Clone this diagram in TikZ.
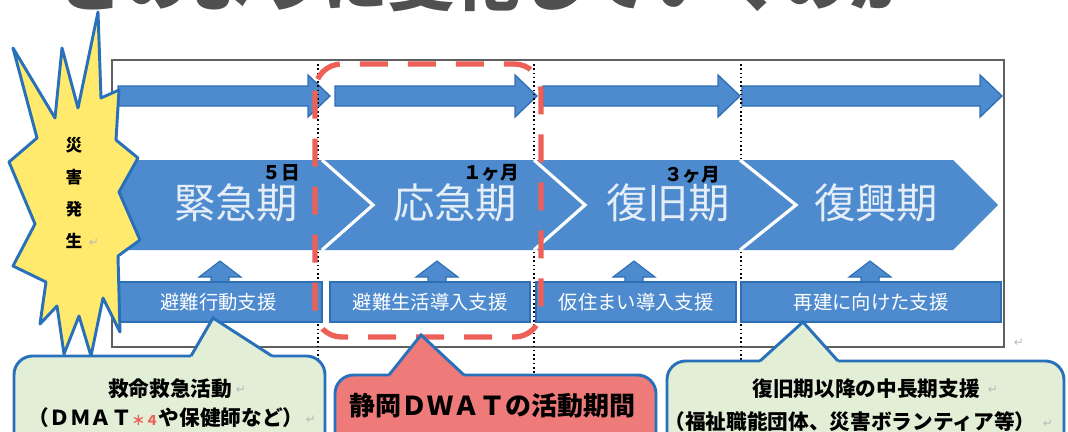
\documentclass[tikz,border=0pt]{standalone}
\usepackage{fontspec}
\setmainfont{Noto Sans CJK JP}
\newfontfamily\retfont{DejaVu Sans}
\usetikzlibrary{calc}

\definecolor{bandblue}{RGB}{77,139,206}
\definecolor{edgeblue}{RGB}{46,110,180}
\definecolor{lineblue}{RGB}{40,112,186}
\definecolor{starfill}{RGB}{255,234,110}
\definecolor{palegreen}{RGB}{226,238,214}
\definecolor{pinkred}{RGB}{239,122,122}
\definecolor{dashred}{RGB}{236,96,88}
\definecolor{framegray}{RGB}{95,95,95}
\definecolor{titlegray}{RGB}{80,80,80}
\definecolor{phasetext}{RGB}{228,237,248}
\definecolor{retgray}{RGB}{185,185,185}

\begin{document}
\begin{tikzpicture}[x=0.75pt, y=-0.75pt]
        % Define styles for shapes
        \tikzstyle{outerframe} = [draw=framegray, line width=1.6pt]
        \tikzstyle{toparrow} = [fill=bandblue, draw=edgeblue, line width=1pt]
        \tikzstyle{sepline} = [black, dotted, line width=1.2pt]
        \tikzstyle{notch} = [white, line width=2.4pt]
        \tikzstyle{uparrow} = [fill=bandblue, draw=edgeblue, line width=0.8pt]
        \tikzstyle{supportbox} = [draw=edgeblue, fill=bandblue, line width=1.2pt, minimum height=30pt, inner sep=0, text=white, font=\fontsize{14.5}{14.5}\selectfont]
        \tikzstyle{phase} = [text=phasetext, inner sep=0, font=\fontsize{31}{31}\selectfont]
        \tikzstyle{timelabel} = [inner sep=0, font=\bfseries\fontsize{14}{14}\selectfont]
        \tikzstyle{dashzone} = [draw=dashred, line width=4pt, dash pattern=on 21pt off 15pt, rounded corners=20pt]
        \tikzstyle{burst} = [fill=starfill, draw=lineblue, line width=2.2pt, line join=round]
        \tikzstyle{bubble} = [draw=lineblue, line width=2.2pt, rounded corners=14pt]
        \tikzstyle{pointer} = [draw=lineblue, line width=2.2pt, line join=miter]
        \tikzstyle{bubbletext} = [inner sep=0, font=\bfseries\fontsize{15.5}{15.5}\selectfont]
        \tikzstyle{retmark} = [inner sep=0, text=retgray, font=\retfont\fontsize{9}{9}\selectfont]

        \useasboundingbox (0,0) rectangle (1068,432);
        \clip (0,0) rectangle (1068,432);

        % Title (cut off at the top)
        \node[anchor=base west, inner sep=0, text=titlegray, font=\bfseries\fontsize{49.5}{49.5}\selectfont] (title) at (58,6) {どのように変化していくのか};

        % Draw frame and top arrows
        \draw[outerframe] (112,60) rectangle (1004,347);
        \foreach \a/\b in {118/330, 335/537, 543/740, 742/1002}
            \draw[toparrow] (\a,86) -- (\b-22,86) -- (\b-22,75) -- (\b,96) -- (\b-22,117) -- (\b-22,106) -- (\a,106) -- cycle;

        % Draw period separators
        \foreach \x in {318,534,741}
            \draw[sepline] (\x,64) -- (\x,432);

        % Draw phase band
        \fill[bandblue] (115,160) -- (953,160) -- (998,205) -- (953,250) -- (115,250) -- cycle;
        \foreach \x/\d in {322/51, 534/51, 740/56}
            \draw[notch] (\x,160) -- (\x+\d,205) -- (\x,250);
        \node[phase] (ph1) at (236,203) {緊急期};
        \node[phase] (ph2) at (455,203) {応急期};
        \node[phase] (ph3) at (668,203) {復旧期};
        \node[phase] (ph4) at (876,203) {復興期};
        \node[timelabel] (t5d) at (281,173) {５日};
        \node[timelabel] (t1m) at (491,173) {１ヶ月};
        \node[timelabel] (t3m) at (692,175) {３ヶ月};

        % Draw up arrows and support boxes
        \foreach \c in {220,437,634,870}
            \draw[uparrow] (\c,261) -- (\c+21,277) -- (\c+9,277) -- (\c+9,284) -- (\c-9,284) -- (\c-9,277) -- (\c-21,277) -- cycle;
        \node[supportbox, minimum width=155pt] (sup1) at (218.5,302) {避難行動支援};
        \node[supportbox, minimum width=150pt] (sup2) at (430,302) {避難生活導入支援};
        \node[supportbox, minimum width=150pt] (sup3) at (636,302) {仮住まい導入支援};
        \node[supportbox, minimum width=195pt] (sup4) at (871,302) {再建に向けた支援};
        \node[retmark] (ret0) at (1019,343) {↵};

        % DWAT period
        \draw[dashzone] (315,64) rectangle (541,337);

        % Draw burst
        \draw[burst] (98,12) -- (101,98) -- (119,90) -- (116,140) -- (138,158) -- (119,192) -- (140,240) -- (118,256) -- (120,332) -- (103,298) -- (91,356) -- (79,316) -- (64,354) -- (57,306) -- (40,324) -- (46,282) -- (13,266) -- (35,224) -- (9,162) -- (37,138) -- (13,48) -- (55,118) -- (62,48) -- (78,108) -- cycle;
        \node[align=center, inner sep=0, font=\bfseries\fontsize{12.5}{24}\selectfont] (onset) at (74,193) {災\\害\\発\\生};
        \node[retmark] (ret1) at (94,243) {↵};

        % Draw callouts
        \draw[bubble, fill=palegreen] (14,356) rectangle (325,450);
        \fill[palegreen] (191,356) -- (213,318) -- (272,356) -- (272,359) -- (191,359) -- cycle;
        \draw[pointer] (191,356) -- (213,318) -- (272,356);
        \node[bubbletext] (rescue1) at (170,389) {救命救急活動};
        \node[bubbletext] (rescue2) at (166,418) {（ＤＭＡＴ{\color{dashred}\fontsize{10}{10}\selectfont ＊４}や保健師など）};
        \node[retmark] (ret3) at (311,420) {↵};
        \node[retmark] (ret2) at (241,390) {↵};

        \draw[bubble, fill=pinkred] (335,375) rectangle (656,455);
        \fill[pinkred] (389,375) -- (421,335) -- (464,375) -- (464,378) -- (389,378) -- cycle;
        \draw[pointer] (389,375) -- (421,335) -- (464,375);
        \node[bubbletext, font=\bfseries\fontsize{19.5}{19.5}\selectfont] (dwat) at (492,406) {静岡ＤＷＡＴの活動期間};

        \draw[bubble, fill=palegreen] (667,361) rectangle (1064,455);
        \fill[palegreen] (760,361) -- (803,322) -- (838,361) -- (838,364) -- (760,364) -- cycle;
        \draw[pointer] (760,361) -- (803,322) -- (838,361);
        \node[bubbletext] (longterm1) at (866,389) {復旧期以降の中長期支援};
        \node[bubbletext] (longterm2) at (850,422) {（福祉職能団体、災害ボランティア等）};
        \node[retmark] (ret5) at (1048,424) {↵};
        \node[retmark] (ret4) at (993,390) {↵};
\end{tikzpicture}
\end{document}
